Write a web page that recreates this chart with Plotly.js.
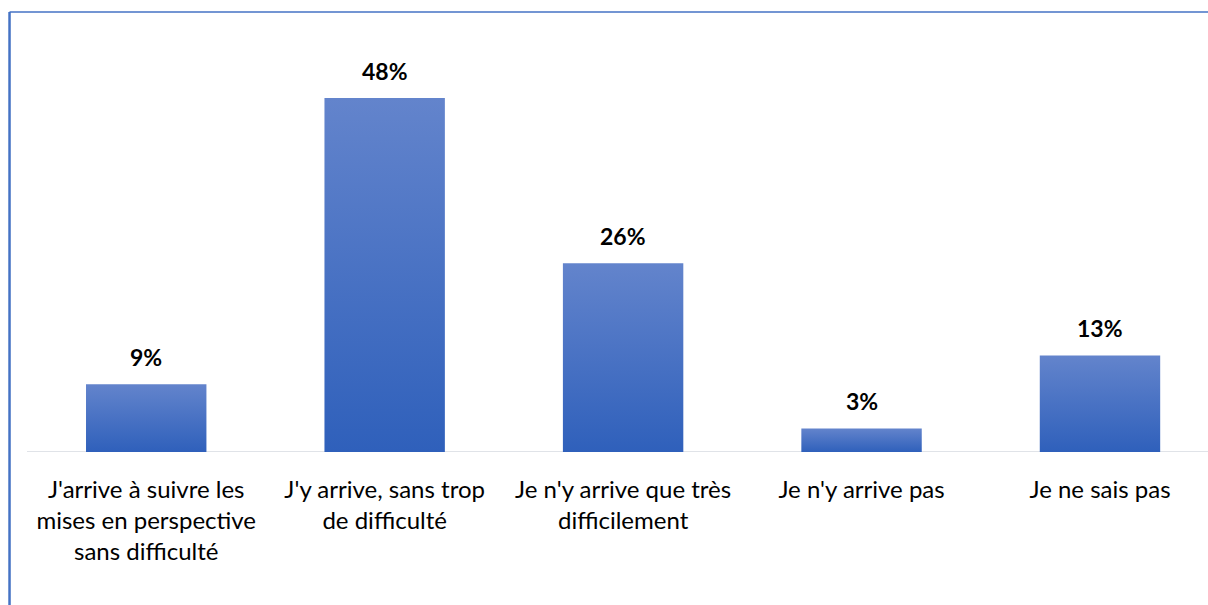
<!DOCTYPE html>
<html>
<head>
<meta charset="utf-8">
<script src="https://cdn.plot.ly/plotly-3.0.1.min.js"></script>
<style>
  html, body { margin: 0; padding: 0; background: #ffffff; }
  #chart { width: 1208px; height: 605px; }
</style>
</head>
<body>
<div id="chart"></div>
<script>
const categories = [
  "J'arrive à suivre les<br>mises en perspective<br>sans difficulté",
  "J'y arrive, sans trop<br>de difficulté",
  "Je n'y arrive que très<br>difficilement",
  "Je n'y arrive pas",
  "Je ne sais pas"
];
const values = [9.2, 48, 25.6, 3.2, 13.1];
const valueLabels = ["9%", "48%", "26%", "3%", "13%"];

const barWidth = 0.505;
const FONT = "Lato, 'Open Sans', sans-serif";

const traces = values.map((v, i) => ({
  type: 'scatter',
  mode: 'lines',
  x: [i - barWidth / 2, i - barWidth / 2, i + barWidth / 2, i + barWidth / 2, i - barWidth / 2],
  y: [0, v, v, 0, 0],
  fill: 'toself',
  line: { width: 0, color: 'rgba(0,0,0,0)' },
  fillgradient: {
    type: 'vertical',
    colorscale: [[0, '#2f60bb'], [1, '#6384cc']]
  },
  hoverinfo: 'skip',
  showlegend: false
}));

const annotations = values.map((v, i) => ({
  x: i, y: v, xref: 'x', yref: 'y',
  text: '<b>' + valueLabels[i] + '</b>',
  showarrow: false,
  yanchor: 'bottom',
  yshift: 11,
  font: { family: FONT, size: 23, color: '#000000' }
}));

const layout = {
  width: 1208,
  height: 605,
  margin: { l: 27, r: 0, t: 31, b: 153 },
  paper_bgcolor: '#ffffff',
  plot_bgcolor: '#ffffff',
  showlegend: false,
  xaxis: {
    range: [-0.5, 4.453],
    tickmode: 'array',
    tickvals: categories.map((c, i) => i),
    ticktext: categories,
    showgrid: false,
    zeroline: false,
    showline: false,
    ticks: '',
    ticklabelstandoff: 21,
    tickfont: { family: FONT, size: 24, color: '#000000' },
    fixedrange: true
  },
  yaxis: {
    range: [0, 57.1],
    showgrid: false,
    zeroline: false,
    showline: false,
    showticklabels: false,
    ticks: '',
    fixedrange: true
  },
  annotations: annotations,
  shapes: [
    { type: 'line', xref: 'paper', yref: 'y', x0: 0, x1: 1, y0: 0, y1: 0,
      line: { color: '#e0e3e8', width: 2 }, layer: 'below' },
    { type: 'line', xref: 'paper', yref: 'paper', x0: -0.0148, x1: 1.02, y0: 1.0451, y1: 1.0451,
      line: { color: '#4472c4', width: 1.5 } },
    { type: 'line', xref: 'paper', yref: 'paper', x0: -0.0148, x1: -0.0148, y0: 1.0451, y1: -0.4,
      line: { color: '#4472c4', width: 2.5 } }
  ]
};

Plotly.newPlot('chart', traces, layout, { displayModeBar: false, staticPlot: true });
</script>
</body>
</html>
